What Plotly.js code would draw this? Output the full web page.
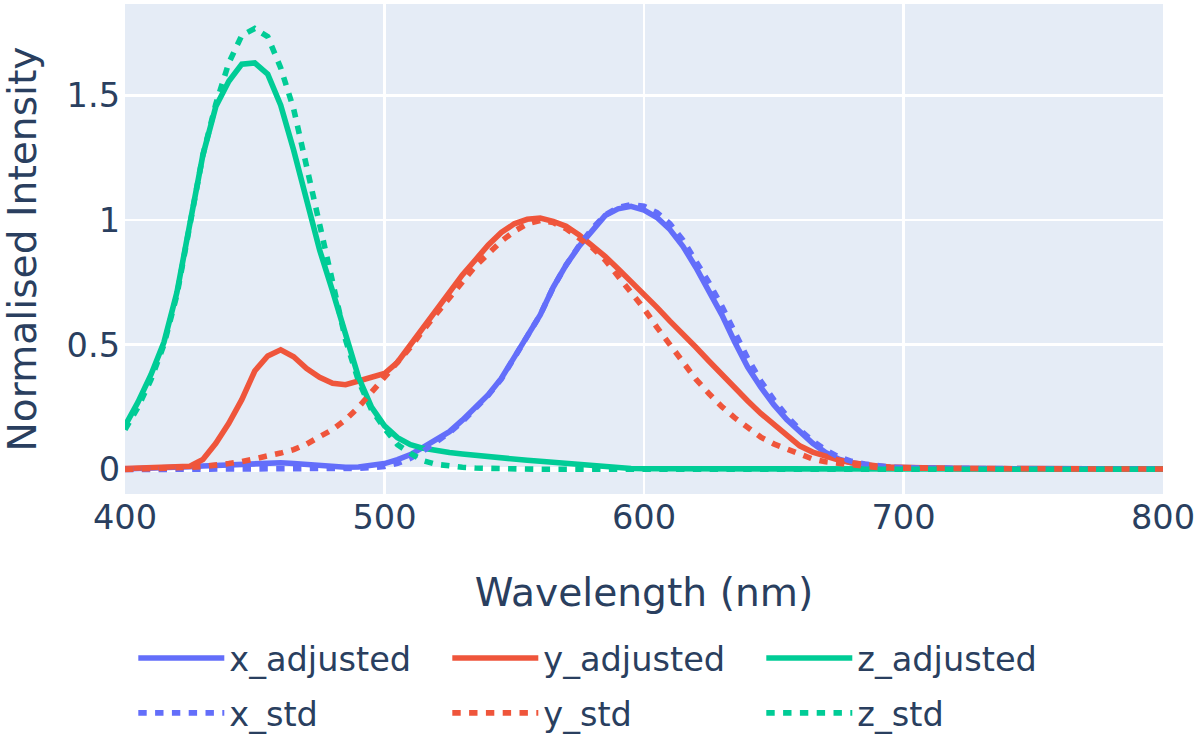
<!DOCTYPE html>
<html>
<head>
<meta charset="utf-8">
<script src="https://cdn.plot.ly/plotly-3.0.1.min.js"></script>
<style>html,body{margin:0;padding:0;background:#fff;}#chart{width:1196px;height:751px;}</style>
</head>
<body>
<div id="chart"></div>
<script>
// Wavelengths (nm), 5 nm steps
var wavelength = [];
for (var w = 400; w <= 800; w += 5) wavelength.push(w);

var tail = [0.006,0.005,0.005,0.004,0.004,0.004,0.003,0.003,0.003,0.003,0.003,0.002,0.002,0.002,0.002,0.002,0.002,0.002,0.002,0.002];

var x_adjusted = [0.002,0.003,0.004,0.006,0.008,0.011,0.014,0.017,0.02,0.023,
  0.025,0.027,0.027,0.024,0.019,0.014,0.01,0.009,0.01,0.015,
  0.024,0.04,0.06,0.09,0.122,0.152,0.198,0.248,0.3,0.365,
  0.45,0.53,0.62,0.73,0.82,0.895,0.96,1.018,1.045,1.055,
  1.04,1.01,0.962,0.895,0.81,0.715,0.62,0.51,0.41,0.33,
  0.26,0.2,0.15,0.105,0.068,0.042,0.027,0.018,0.012,0.009,
  0.007].concat(tail);

var y_adjusted = [0.004,0.005,0.006,0.008,0.01,0.013,0.04,0.105,0.185,0.28,
  0.395,0.455,0.48,0.452,0.405,0.37,0.346,0.34,0.355,0.37,
  0.385,0.43,0.5,0.57,0.64,0.715,0.78,0.84,0.9,0.95,
  0.985,1.003,1.008,0.995,0.975,0.94,0.9,0.855,0.805,0.755,
  0.705,0.65,0.595,0.545,0.49,0.435,0.38,0.325,0.275,0.225,
  0.18,0.135,0.095,0.07,0.052,0.038,0.027,0.019,0.014,0.01,
  0.008].concat(tail);

var z_adjusted = [0.175,0.27,0.38,0.51,0.71,0.98,1.26,1.455,1.556,1.625,
  1.63,1.585,1.46,1.28,1.087,0.88,0.715,0.55,0.37,0.25,
  0.175,0.128,0.1,0.085,0.075,0.068,0.062,0.056,0.052,0.047,
  0.042,0.037,0.033,0.029,0.024,0.018,0.013,0.009,0.006,0.004,
  0.003,0.003,0.002,0.002,0.002,0.002,0.002,0.002,0.002,0.002,
  0.002,0.002,0.002,0.002,0.002,0.002,0.002,0.002,0.002,0.002,
  0.002,0.002,0.002,0.002,0.002,0.002,0.002,0.002,0.002,0.002,
  0.002,0.002,0.002,0.002,0.002,0.002,0.002,0.002,0.002,0.002,
  0.002];

var x_std = [0.0,0.0,0.0,0.001,0.001,0.001,0.001,0.001,0.001,0.001,
  0.001,0.001,0.001,0.001,0.001,0.001,0.002,0.003,0.005,0.008,
  0.012,0.025,0.045,0.075,0.11,0.148,0.192,0.245,0.298,0.362,
  0.445,0.528,0.62,0.73,0.82,0.898,0.965,1.02,1.05,1.062,
  1.055,1.03,0.985,0.92,0.84,0.75,0.655,0.545,0.445,0.355,
  0.28,0.215,0.16,0.115,0.078,0.05,0.033,0.022,0.015,0.01,
  0.007].concat(tail);

var y_std = [0.0,0.001,0.002,0.004,0.006,0.009,0.012,0.016,0.024,0.032,
  0.042,0.052,0.066,0.08,0.102,0.132,0.16,0.2,0.25,0.31,
  0.368,0.43,0.49,0.56,0.625,0.69,0.755,0.815,0.865,0.915,
  0.955,0.985,0.998,0.99,0.965,0.93,0.89,0.84,0.775,0.71,
  0.645,0.57,0.5,0.43,0.362,0.305,0.252,0.207,0.165,0.13,
  0.103,0.084,0.064,0.042,0.031,0.024,0.018,0.012,0.008,0.006,
  0.004].concat(tail);

var z_std = [0.16,0.25,0.36,0.5,0.7,0.97,1.26,1.465,1.63,1.74,
  1.768,1.735,1.61,1.445,1.22,0.98,0.755,0.52,0.355,0.24,
  0.165,0.1,0.065,0.035,0.021,0.013,0.009,0.006,0.004,0.003,
  0.002,0.002,0.001,0.001,0.001,0.001,0.001,0.001,0.001,0.001,
  0.001,0.001,0.001,0.001,0.001,0.001,0.001,0.001,0.001,0.001,
  0.001,0.001,0.001,0.001,0.001,0.001,0.001,0.001,0.001,0.001,
  0.001,0.001,0.001,0.001,0.001,0.001,0.001,0.001,0.001,0.001,
  0.001,0.001,0.001,0.001,0.001,0.001,0.001,0.001,0.001,0.001,
  0.001];

var seriesNames = ['x_adjusted','y_adjusted','z_adjusted','x_std','y_std','z_std'];
var seriesValues = [x_adjusted, y_adjusted, z_adjusted, x_std, y_std, z_std];
var colors = ['#636efa','#EF553B','#00cc96','#636efa','#EF553B','#00cc96'];

var S = 2.8;
var traces = seriesNames.map(function(n, i){
  return {
    type: 'scatter', mode: 'lines', name: n,
    x: wavelength, y: seriesValues[i],
    legend: i < 3 ? 'legend' : 'legend2',
    line: {color: colors[i], width: 2*S, dash: i < 3 ? 'solid' : (3*S)+'px,'+(3*S)+'px'}
  };
});

var font = {family: 'Verdana, "DejaVu Sans", sans-serif', color: '#2a3f5f', size: 12*S};

function legendAt(y) {
  return {orientation: 'h', x: 0.008, xanchor: 'left', y: y, yanchor: 'middle',
          font: {size: 12*S}, itemwidth: 86, entrywidth: 213, entrywidthmode: 'pixels',
          bgcolor: 'rgba(0,0,0,0)'};
}

var layout = {
  width: 1196, height: 751,
  paper_bgcolor: '#fff', plot_bgcolor: '#E5ECF6',
  font: font,
  margin: {l: 125, r: 33, t: 4, b: 257, pad: 0},
  showlegend: true,
  legend: legendAt(-0.335),
  legend2: legendAt(-0.447),
  xaxis: {
    range: [400, 800], tickvals: [400,500,600,700,800],
    gridcolor: '#fff', gridwidth: S, zeroline: false, showline: false,
    ticks: '', tickfont: {size: 12*S}, automargin: false,
    title: {text: 'Wavelength (nm)', font: {size: 14*S}, standoff: 42}
  },
  yaxis: {
    range: [-0.098, 1.866], tickvals: [0, 0.5, 1, 1.5], ticktext: ['0','0.5','1','1.5'],
    gridcolor: '#fff', gridwidth: S, zeroline: true, zerolinecolor: '#fff', zerolinewidth: 2*S,
    ticks: '', tickfont: {size: 12*S}, automargin: false, ticklabelstandoff: 4,
    title: {text: 'Normalised Intensity', font: {size: 14*S}, standoff: 20}
  }
};

Plotly.newPlot('chart', traces, layout, {displayModeBar: false, staticPlot: true});
</script>
</body>
</html>
